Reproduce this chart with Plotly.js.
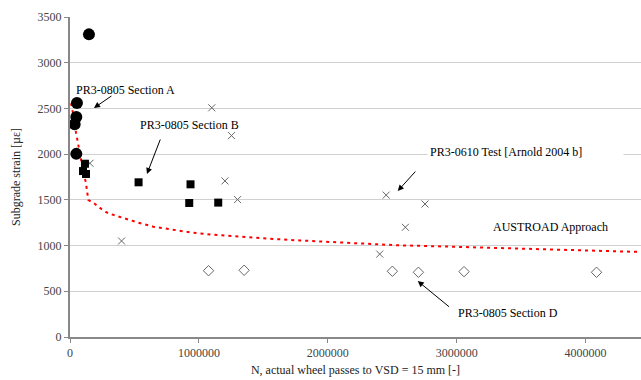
<!DOCTYPE html>
<html><head><meta charset="utf-8">
<script src="https://cdn.plot.ly/plotly-3.0.1.min.js"></script>
<style>html,body{margin:0;padding:0;background:#fff}</style>
</head><body><div id="chart" style="width:641px;height:380px"></div>
<script>
// Section A (black circles)
const secA_N = [147000, 54000, 49000, 36000, 49000];
const secA_strain = [3310, 2560, 2405, 2327, 2003];
// Section B (black squares)
const secB_N = [116000, 101000, 124000, 532000, 935000, 925000, 1150000];
const secB_strain = [1895, 1815, 1783, 1692, 1670, 1466, 1470];
// PR3-0610 Test [Arnold 2004 b] (x markers)
const t0610_N = [155000, 400000, 1100000, 1253000, 1202000, 1300000, 2403000, 2453000, 2754000, 2602000];
const t0610_strain = [1900, 1050, 2507, 2203, 1707, 1503, 907, 1552, 1455, 1200];
// Section D (open diamonds)
const secD_N = [1075000, 1351000, 2501000, 2703000, 3057000, 4085000];
const secD_strain = [725, 730, 719, 708, 715, 708];
// AUSTROAD approach curve
const aus_N = [8000, 26000, 47000, 78000, 98000, 124000, 134000, 142000, 194000, 246000, 297000, 413000, 530000, 646000, 801000, 930000, 1111000, 1266000, 1524000, 1783000, 2041000, 2300000, 2532000, 3023000, 3540000, 4430000];
const aus_strain = [2557, 2429, 2232, 1969, 1849, 1681, 1591, 1499, 1455, 1397, 1353, 1298, 1250, 1207, 1171, 1145, 1118, 1100, 1077, 1056, 1036, 1018, 1004, 985, 966, 930];
// Labels
const xTitle = "N, actual wheel passes to VSD = 15 mm [-]";
const yTitle = "Subgrade strain [µε]";
const labA = "PR3-0805 Section A";
const labB = "PR3-0805 Section B";
const lab0610 = "PR3-0610 Test [Arnold 2004 b]";
const labAus = "AUSTROAD Approach";
const labD = "PR3-0805 Section D";

const serif = "'Liberation Serif', 'Times New Roman', 'DejaVu Serif', serif";
const traces = [
  {x: aus_N, y: aus_strain, mode: 'lines', type: 'scatter', line: {color: '#ff0000', width: 2, dash: '3px,4px'}, hoverinfo: 'skip'},
  {x: secD_N, y: secD_strain, mode: 'markers', type: 'scatter', marker: {symbol: 'diamond-open', size: 8, color: '#666', line: {width: 1, color: '#666'}}},
  {x: t0610_N, y: t0610_strain, mode: 'markers', type: 'scatter', marker: {symbol: 'x-thin-open', size: 7, color: '#666', line: {width: 1, color: '#666'}}},
  {x: secB_N, y: secB_strain, mode: 'markers', type: 'scatter', marker: {symbol: 'square', size: 8, color: '#000'}},
  {x: secA_N, y: secA_strain, mode: 'markers', type: 'scatter', marker: {symbol: 'circle', size: 12, color: '#000'}}
];
const af = {family: serif, size: 12, color: '#000'};
const arrow = (x, y, ax, ay) => ({x: x, y: y, ax: ax, ay: ay, xref: 'x', yref: 'y', axref: 'x', ayref: 'y', text: '', showarrow: true, arrowhead: 2, arrowsize: 1.2, arrowwidth: 1, arrowcolor: '#000'});
const layout = {
  width: 641, height: 380,
  margin: {l: 70, r: 0, t: 17, b: 43},
  paper_bgcolor: '#fff', plot_bgcolor: '#fff',
  showlegend: false,
  font: {family: serif, size: 12, color: '#444'},
  xaxis: {range: [0, 4430000], dtick: 1000000, tick0: 0, tickformat: 'd', showgrid: false, zeroline: false,
    showline: true, linecolor: '#888', linewidth: 2, ticks: 'outside', ticklen: 4, tickcolor: '#888',
    tickfont: {family: serif, size: 12, color: '#444'},
    title: {text: xTitle, font: {family: serif, size: 12, color: '#222'}, standoff: 6}},
  yaxis: {range: [0, 3500], dtick: 500, showgrid: true, gridcolor: '#d0d0d0', gridwidth: 1, zeroline: false,
    showline: true, linecolor: '#888', linewidth: 2, ticks: 'outside', ticklen: 4, tickcolor: '#888',
    tickfont: {family: serif, size: 12, color: '#444'},
    title: {text: yTitle, font: {family: serif, size: 12, color: '#222'}, standoff: 14}},
  annotations: [
    {x: 434000, y: 2701, text: labA, showarrow: false, font: af},
    arrow(186000, 2505, 333000, 2647),
    {x: 930000, y: 2319, text: labB, showarrow: false, font: af},
    arrow(597000, 1783, 705000, 2177),
    {x: 3531000, y: 2023, text: lab0610, showarrow: false, font: af, bgcolor: '#fff', borderpad: 2, width: 191, align: 'left'},
    arrow(2543000, 1597, 2690000, 1826),
    {x: 3725000, y: 1203, text: labAus, showarrow: false, font: af},
    {x: 3395000, y: 262, text: labD, showarrow: false, font: af},
    arrow(2698000, 612, 2953000, 317)
  ]
};
Plotly.newPlot('chart', traces, layout, {displayModeBar: false, staticPlot: true});
</script></body></html>
